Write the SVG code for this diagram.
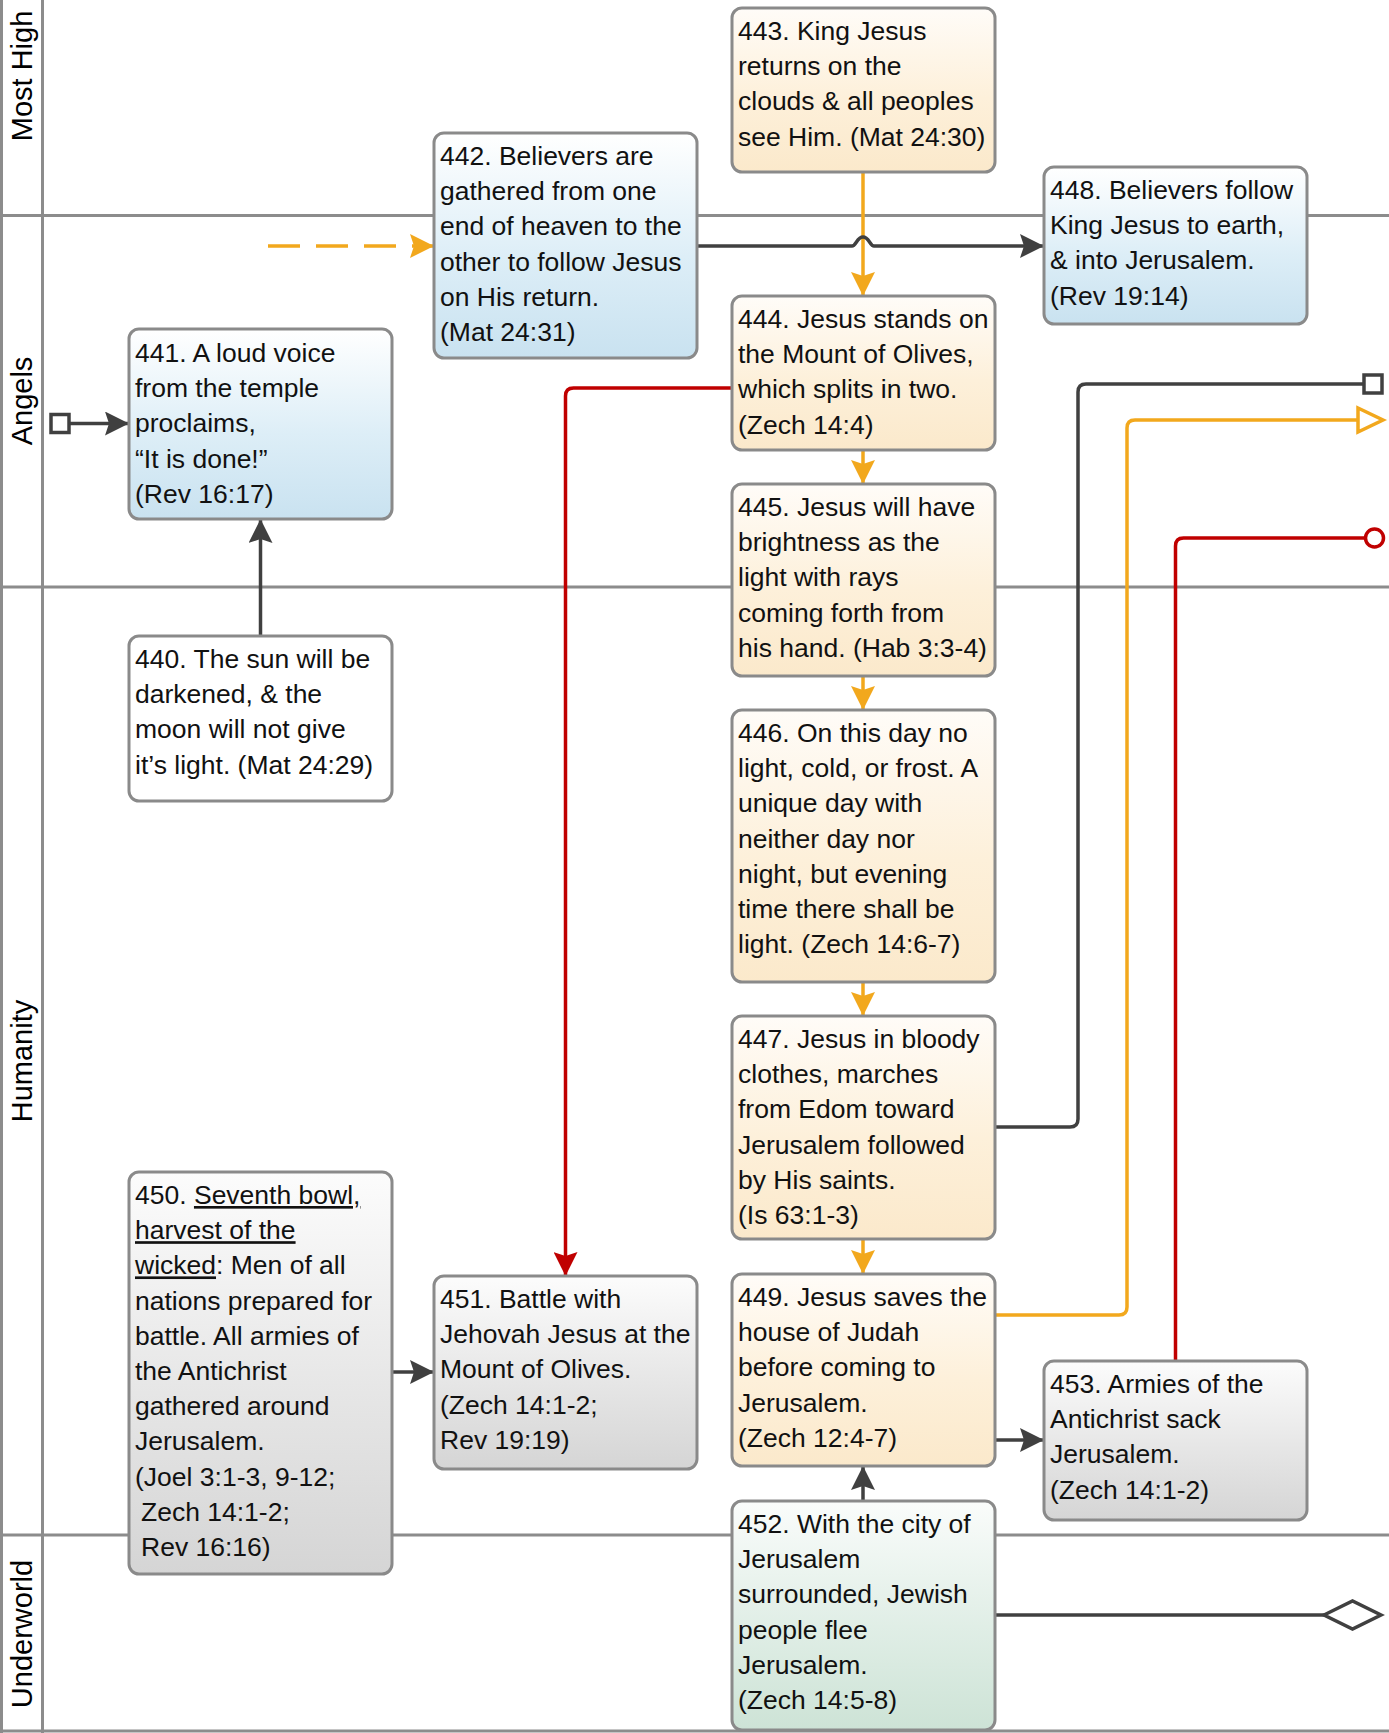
<svg xmlns="http://www.w3.org/2000/svg" width="1389" height="1733" viewBox="0 0 1389 1733">
<style>
.lane{stroke:#8c8c8c;stroke-width:3;fill:none}
.lbl{font-family:"Liberation Sans",Arial,sans-serif;font-size:29px;fill:#000;text-anchor:middle}
.box{stroke:#8a8a8a;stroke-width:3}
.t{font-family:"Liberation Sans",Arial,sans-serif;font-size:26.5px;fill:#111}
.dk{stroke:#404040;stroke-width:3.5;fill:none}
.or{stroke:#f2a81d;stroke-width:3.5;fill:none}
.rd{stroke:#c00000;stroke-width:3.5;fill:none}
</style>
<defs>
<linearGradient id="gBlue" x1="0" y1="0" x2="0" y2="1"><stop offset="0" stop-color="#ffffff"/><stop offset="0.55" stop-color="#ddeef7"/><stop offset="1" stop-color="#c9e2f0"/></linearGradient>
<linearGradient id="gOr" x1="0" y1="0" x2="0" y2="1"><stop offset="0" stop-color="#fffcf8"/><stop offset="0.55" stop-color="#fdf0da"/><stop offset="1" stop-color="#fbe9cb"/></linearGradient>
<linearGradient id="gGray" x1="0" y1="0" x2="0" y2="1"><stop offset="0" stop-color="#fcfcfc"/><stop offset="0.55" stop-color="#e6e6e6"/><stop offset="1" stop-color="#d5d5d5"/></linearGradient>
<linearGradient id="gGreen" x1="0" y1="0" x2="0" y2="1"><stop offset="0" stop-color="#fafcfb"/><stop offset="0.55" stop-color="#e0eee6"/><stop offset="1" stop-color="#cde3d6"/></linearGradient>
<marker id="aDk" markerUnits="userSpaceOnUse" viewBox="0 0 24 24" markerWidth="24" markerHeight="24" refX="24" refY="12" orient="auto"><path d="M0,0 L24,12 L0,24 L4,12 Z" fill="#404040"/></marker>
<marker id="aOr" markerUnits="userSpaceOnUse" viewBox="0 0 24 24" markerWidth="24" markerHeight="24" refX="24" refY="12" orient="auto"><path d="M0,0 L24,12 L0,24 L4,12 Z" fill="#f2a81d"/></marker>
<marker id="aRd" markerUnits="userSpaceOnUse" viewBox="0 0 24 24" markerWidth="24" markerHeight="24" refX="24" refY="12" orient="auto"><path d="M0,0 L24,12 L0,24 L4,12 Z" fill="#c00000"/></marker>
</defs>
<rect x="0" y="0" width="1389" height="1733" fill="#ffffff"/>
<g id="lanes">
<line class="lane" x1="1.5" y1="0" x2="1.5" y2="1733"/>
<line class="lane" x1="42.5" y1="0" x2="42.5" y2="1733"/>
<line class="lane" x1="0" y1="215.5" x2="1389" y2="215.5"/>
<line class="lane" x1="0" y1="587" x2="1389" y2="587"/>
<line class="lane" x1="0" y1="1535" x2="1389" y2="1535"/>
<line class="lane" x1="0" y1="1731" x2="1389" y2="1731"/>
<text class="lbl" transform="translate(32,76) rotate(-90)">Most High</text>
<text class="lbl" transform="translate(32,401) rotate(-90)">Angels</text>
<text class="lbl" transform="translate(32,1061) rotate(-90)">Humanity</text>
<text class="lbl" transform="translate(32,1634) rotate(-90)">Underworld</text>
</g>
<g id="connectors">
<path class="dk" d="M260.5,636 L260.5,519" marker-end="url(#aDk)"/>
<rect x="51" y="414.5" width="18" height="18" fill="#fff" stroke="#404040" stroke-width="3.5"/>
<path class="dk" d="M69,423.5 L129,423.5" marker-end="url(#aDk)"/>
<path class="or" d="M268,246 L434,246" stroke-dasharray="32 16" marker-end="url(#aOr)"/>
<path class="or" d="M863,172 L863,296" marker-end="url(#aOr)"/>
<path class="dk" d="M697,246 L852,246 C856,246 857,237 863,237 C869,237 870,246 874,246 L1044,246" marker-end="url(#aDk)"/>
<path class="or" d="M863,450 L863,484" marker-end="url(#aOr)"/>
<path class="or" d="M863,676 L863,710" marker-end="url(#aOr)"/>
<path class="or" d="M863,982 L863,1016" marker-end="url(#aOr)"/>
<path class="or" d="M863,1239 L863,1274" marker-end="url(#aOr)"/>
<path class="rd" d="M732,388 L573.5,388 Q565.5,388 565.5,396 L565.5,1276" marker-end="url(#aRd)"/>
<path class="dk" d="M995,1127 L1070,1127 Q1078,1127 1078,1119 L1078,392 Q1078,384 1086,384 L1363,384"/>
<rect x="1364" y="375" width="18" height="18" fill="#fff" stroke="#404040" stroke-width="3.5"/>
<path class="or" d="M995,1315 L1119,1315 Q1127,1315 1127,1307 L1127,428 Q1127,420 1135,420 L1358,420"/>
<path d="M1358,408 L1383,420 L1358,432 Z" fill="#fff" stroke="#f2a81d" stroke-width="3.5" stroke-linejoin="miter"/>
<path class="rd" d="M1175.5,1361 L1175.5,546 Q1175.5,538 1183.5,538 L1365,538"/>
<circle cx="1374.5" cy="538" r="9" fill="#fff" stroke="#c00000" stroke-width="3.5"/>
<path class="dk" d="M392,1372 L434,1372" marker-end="url(#aDk)"/>
<path class="dk" d="M995,1440 L1044,1440" marker-end="url(#aDk)"/>
<path class="dk" d="M863,1501 L863,1466" marker-end="url(#aDk)"/>
<path class="dk" d="M995,1615 L1324,1615"/>
<path d="M1324,1615 L1352.5,1601 L1381,1615 L1352.5,1629 Z" fill="#fff" stroke="#404040" stroke-width="3.5"/>
</g>
<g id="n440">
<rect class="box" x="129" y="636" width="263" height="165" rx="10" fill="#ffffff"/>
<text class="t" x="135" y="668"><tspan x="135" dy="0">440. The sun will be</tspan><tspan x="135" dy="35.2">darkened, &amp; the</tspan><tspan x="135" dy="35.2">moon will not give</tspan><tspan x="135" dy="35.2">it’s light. (Mat 24:29)</tspan></text>
</g>
<g id="n441">
<rect class="box" x="129" y="329" width="263" height="190" rx="10" fill="url(#gBlue)"/>
<text class="t" x="135" y="362"><tspan x="135" dy="0">441. A loud voice</tspan><tspan x="135" dy="35.2">from the temple</tspan><tspan x="135" dy="35.2">proclaims,</tspan><tspan x="135" dy="35.2">“It is done!”</tspan><tspan x="135" dy="35.2">(Rev 16:17)</tspan></text>
</g>
<g id="n442">
<rect class="box" x="434" y="133" width="263" height="225" rx="10" fill="url(#gBlue)"/>
<text class="t" x="440" y="165"><tspan x="440" dy="0">442. Believers are</tspan><tspan x="440" dy="35.2">gathered from one</tspan><tspan x="440" dy="35.2">end of heaven to the</tspan><tspan x="440" dy="35.2">other to follow Jesus</tspan><tspan x="440" dy="35.2">on His return.</tspan><tspan x="440" dy="35.2">(Mat 24:31)</tspan></text>
</g>
<g id="n443">
<rect class="box" x="732" y="8" width="263" height="164" rx="10" fill="url(#gOr)"/>
<text class="t" x="738" y="40"><tspan x="738" dy="0">443. King Jesus</tspan><tspan x="738" dy="35.2">returns on the</tspan><tspan x="738" dy="35.2">clouds &amp; all peoples</tspan><tspan x="738" dy="35.2">see Him. (Mat 24:30)</tspan></text>
</g>
<g id="n444">
<rect class="box" x="732" y="296" width="263" height="154" rx="10" fill="url(#gOr)"/>
<text class="t" x="738" y="328"><tspan x="738" dy="0">444. Jesus stands on</tspan><tspan x="738" dy="35.2">the Mount of Olives,</tspan><tspan x="738" dy="35.2">which splits in two.</tspan><tspan x="738" dy="35.2">(Zech 14:4)</tspan></text>
</g>
<g id="n445">
<rect class="box" x="732" y="484" width="263" height="192" rx="10" fill="url(#gOr)"/>
<text class="t" x="738" y="516"><tspan x="738" dy="0">445. Jesus will have</tspan><tspan x="738" dy="35.2">brightness as the</tspan><tspan x="738" dy="35.2">light with rays</tspan><tspan x="738" dy="35.2">coming forth from</tspan><tspan x="738" dy="35.2">his hand. (Hab 3:3-4)</tspan></text>
</g>
<g id="n446">
<rect class="box" x="732" y="710" width="263" height="272" rx="10" fill="url(#gOr)"/>
<text class="t" x="738" y="742"><tspan x="738" dy="0">446. On this day no</tspan><tspan x="738" dy="35.2">light, cold, or frost. A</tspan><tspan x="738" dy="35.2">unique day with</tspan><tspan x="738" dy="35.2">neither day nor</tspan><tspan x="738" dy="35.2">night, but evening</tspan><tspan x="738" dy="35.2">time there shall be</tspan><tspan x="738" dy="35.2">light. (Zech 14:6-7)</tspan></text>
</g>
<g id="n447">
<rect class="box" x="732" y="1016" width="263" height="223" rx="10" fill="url(#gOr)"/>
<text class="t" x="738" y="1048"><tspan x="738" dy="0">447. Jesus in bloody</tspan><tspan x="738" dy="35.2">clothes, marches</tspan><tspan x="738" dy="35.2">from Edom toward</tspan><tspan x="738" dy="35.2">Jerusalem followed</tspan><tspan x="738" dy="35.2">by His saints.</tspan><tspan x="738" dy="35.2">(Is 63:1-3)</tspan></text>
</g>
<g id="n448">
<rect class="box" x="1044" y="167" width="263" height="157" rx="10" fill="url(#gBlue)"/>
<text class="t" x="1050" y="199"><tspan x="1050" dy="0">448. Believers follow</tspan><tspan x="1050" dy="35.2">King Jesus to earth,</tspan><tspan x="1050" dy="35.2">&amp; into Jerusalem.</tspan><tspan x="1050" dy="35.2">(Rev 19:14)</tspan></text>
</g>
<g id="n449">
<rect class="box" x="732" y="1274" width="263" height="192" rx="10" fill="url(#gOr)"/>
<text class="t" x="738" y="1306"><tspan x="738" dy="0">449. Jesus saves the</tspan><tspan x="738" dy="35.2">house of Judah</tspan><tspan x="738" dy="35.2">before coming to</tspan><tspan x="738" dy="35.2">Jerusalem.</tspan><tspan x="738" dy="35.2">(Zech 12:4-7)</tspan></text>
</g>
<g id="n450">
<rect class="box" x="129" y="1172" width="263" height="402" rx="10" fill="url(#gGray)"/>
<text class="t" x="135" y="1204"><tspan x="135" dy="0">450. </tspan><tspan text-decoration="underline">Seventh bowl,</tspan><tspan x="135" dy="35.2" text-decoration="underline">harvest of the</tspan><tspan x="135" dy="35.2" text-decoration="underline">wicked</tspan><tspan>: Men of all</tspan><tspan x="135" dy="35.2">nations prepared for</tspan><tspan x="135" dy="35.2">battle. All armies of</tspan><tspan x="135" dy="35.2">the Antichrist</tspan><tspan x="135" dy="35.2">gathered around</tspan><tspan x="135" dy="35.2">Jerusalem.</tspan><tspan x="135" dy="35.2">(Joel 3:1-3, 9-12;</tspan><tspan x="141" dy="35.2">Zech 14:1-2;</tspan><tspan x="141" dy="35.2">Rev 16:16)</tspan></text>
</g>
<g id="n451">
<rect class="box" x="434" y="1276" width="263" height="193" rx="10" fill="url(#gGray)"/>
<text class="t" x="440" y="1308"><tspan x="440" dy="0">451. Battle with</tspan><tspan x="440" dy="35.2">Jehovah Jesus at the</tspan><tspan x="440" dy="35.2">Mount of Olives.</tspan><tspan x="440" dy="35.2">(Zech 14:1-2;</tspan><tspan x="440" dy="35.2">Rev 19:19)</tspan></text>
</g>
<g id="n452">
<rect class="box" x="732" y="1501" width="263" height="229" rx="10" fill="url(#gGreen)"/>
<text class="t" x="738" y="1533"><tspan x="738" dy="0">452. With the city of</tspan><tspan x="738" dy="35.2">Jerusalem</tspan><tspan x="738" dy="35.2">surrounded, Jewish</tspan><tspan x="738" dy="35.2">people flee</tspan><tspan x="738" dy="35.2">Jerusalem.</tspan><tspan x="738" dy="35.2">(Zech 14:5-8)</tspan></text>
</g>
<g id="n453">
<rect class="box" x="1044" y="1361" width="263" height="159" rx="10" fill="url(#gGray)"/>
<text class="t" x="1050" y="1393"><tspan x="1050" dy="0">453. Armies of the</tspan><tspan x="1050" dy="35.2">Antichrist sack</tspan><tspan x="1050" dy="35.2">Jerusalem.</tspan><tspan x="1050" dy="35.2">(Zech 14:1-2)</tspan></text>
</g>
</svg>
